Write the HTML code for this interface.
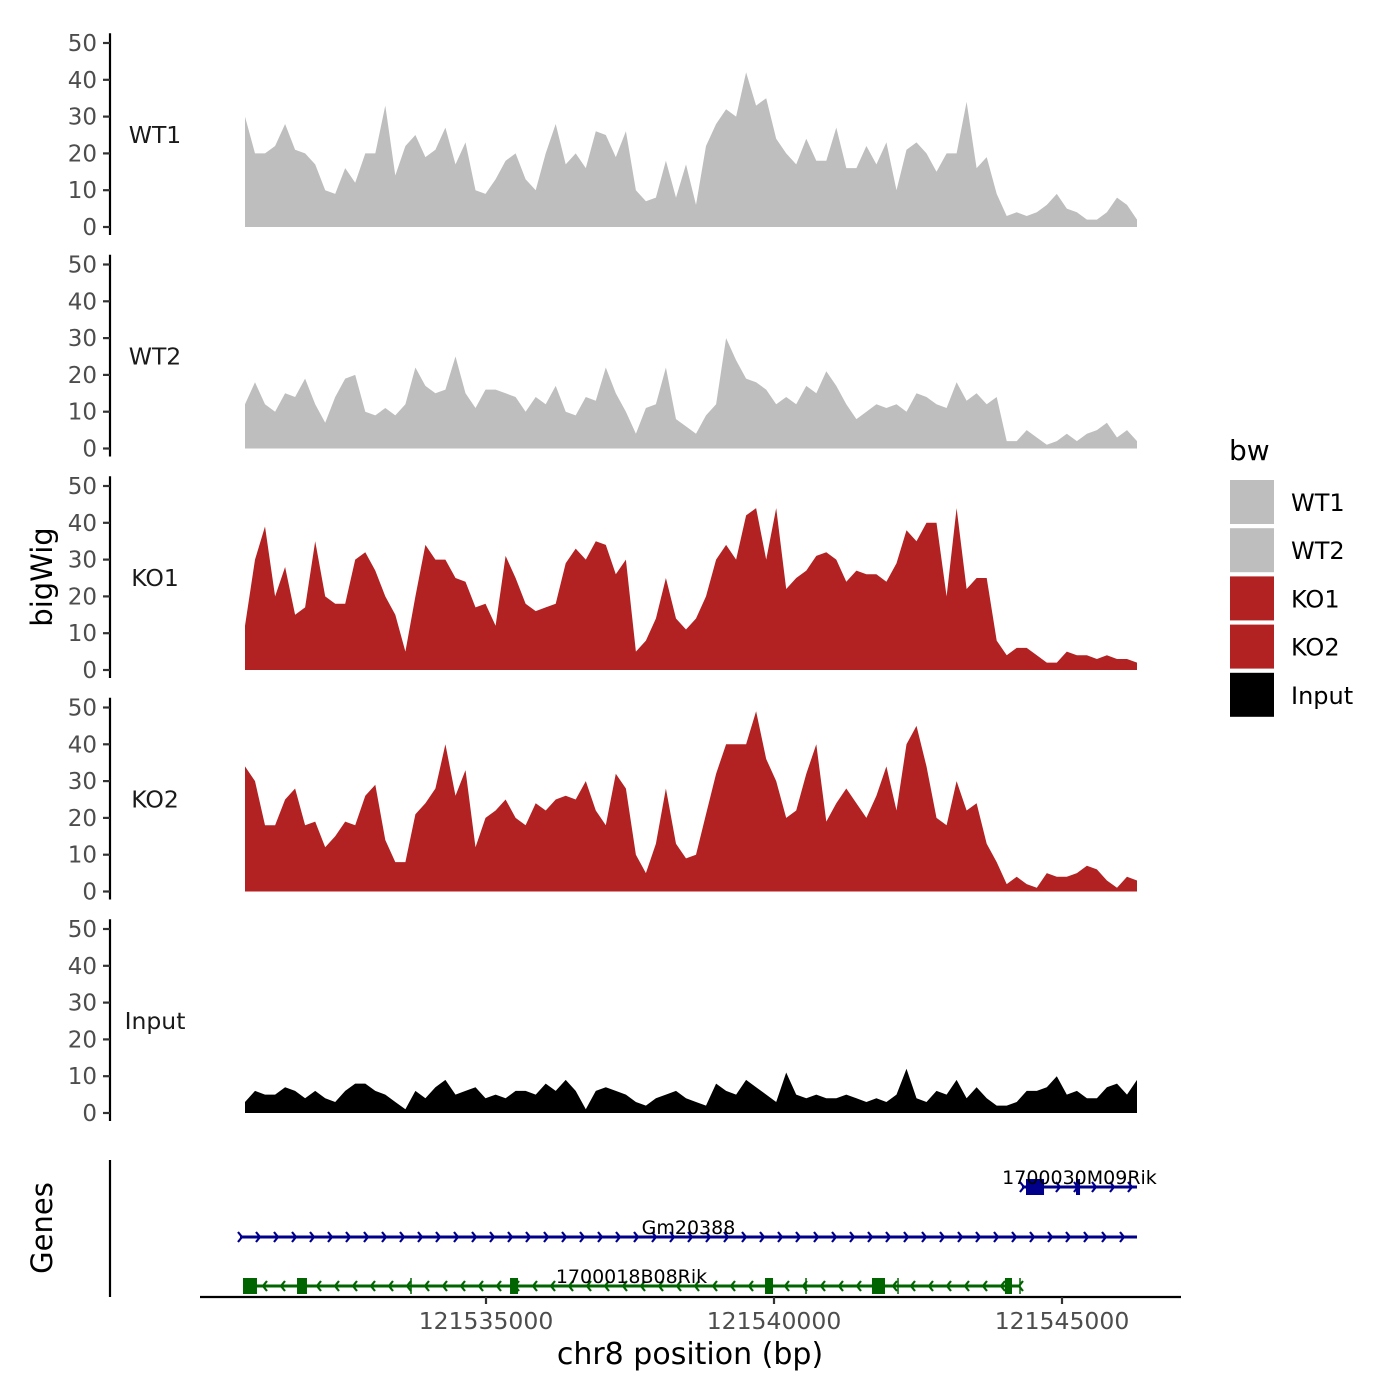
<!DOCTYPE html>
<html><head><meta charset="utf-8"><style>
html,body{margin:0;padding:0;background:#fff;}
svg{display:block;font-family:"DejaVu Sans","Liberation Sans",sans-serif;}
</style></head><body>
<svg id="chart" width="1400" height="1400" viewBox="0 0 1400 1400" xmlns="http://www.w3.org/2000/svg">
<g id="tracks"></g>
<g id="genes"></g>
<g id="xaxis"></g>
<text x="0" y="0" transform="translate(52,577) rotate(-90)" text-anchor="middle" font-size="29" fill="#000">bigWig</text>
<text x="0" y="0" transform="translate(52,1228) rotate(-90)" text-anchor="middle" font-size="29" fill="#000">Genes</text>
<text x="690" y="1364" text-anchor="middle" font-size="30" fill="#000">chr8 position (bp)</text>
<g id="legend"></g>
</svg>
<script>
const binStart = 121530816;
const binSize = 174;
const trackNames = ["WT1","WT2","KO1","KO2","Input"];
const trackColors = ["#bebebe","#bebebe","#b22222","#b22222","#000000"];
const wt1 = [30,20,20,22,28,21,20,17,10,9,16,12,20,20,33,14,22,25,19,21,27,17,23,10,9,13,18,20,13,10,20,28,17,20,16,26,25,19,26,10,7,8,18,8,17,6,22,28,32,30,42,33,35,24,20,17,24,18,18,27,16,16,22,17,23,10,21,23,20,15,20,20,34,16,19,9,3,4,3,4,6,9,5,4,2,2,4,8,6,2];
const wt2 = [12,18,12,10,15,14,19,12,7,14,19,20,10,9,11,9,12,22,17,15,16,25,15,11,16,16,15,14,10,14,12,17,10,9,14,13,22,15,10,4,11,12,22,8,6,4,9,12,30,24,19,18,16,12,14,12,17,15,21,17,12,8,10,12,11,12,10,15,14,12,11,18,13,15,12,14,2,2,5,3,1,2,4,2,4,5,7,3,5,2];
const ko1 = [12,30,39,20,28,15,17,35,20,18,18,30,32,27,20,15,5,20,34,30,30,25,24,17,18,12,31,25,18,16,17,18,29,33,30,35,34,26,30,5,8,14,25,14,11,14,20,30,34,30,42,44,30,44,22,25,27,31,32,30,24,27,26,26,24,29,38,35,40,40,20,44,22,25,25,8,4,6,6,4,2,2,5,4,4,3,4,3,3,2];
const ko2 = [34,30,18,18,25,28,18,19,12,15,19,18,26,29,14,8,8,21,24,28,40,26,33,12,20,22,25,20,18,24,22,25,26,25,30,22,18,32,28,10,5,13,28,13,9,10,21,32,40,40,40,49,36,30,20,22,32,40,19,24,28,24,20,26,34,22,40,45,34,20,18,30,22,24,13,8,2,4,2,1,5,4,4,5,7,6,3,1,4,3];
const input = [3,6,5,5,7,6,4,6,4,3,6,8,8,6,5,3,1,6,4,7,9,5,6,7,4,5,4,6,6,5,8,6,9,6,1,6,7,6,5,3,2,4,5,6,4,3,2,8,6,5,9,7,5,3,11,5,4,5,4,4,5,4,3,4,3,5,12,4,3,6,5,9,4,7,4,2,2,3,6,6,7,10,5,6,4,4,7,8,5,9];
const trackValues = [wt1,wt2,ko1,ko2,input];
const yTicks = [0,10,20,30,40,50];
const xTicks = [121535000,121540000,121545000];
const geneNames = ["1700030M09Rik","Gm20388","1700018B08Rik"];
const geneStarts = [121544305,121530729,121530781];
const geneEnds = [121546302,121546302,121544271];
const geneStrands = ["+","+","-"];
const geneExons = [
  [[121544375,121544688],[121545243,121545313]],
  [],
  [[121530781,121531024],[121531719,121531892],[121535417,121535556],[121539844,121539983],[121541701,121541927],[121544010,121544132]]
];
const geneIntronMarks = [[],[],[121533698,121540556,121542153,121544271]];

const NS="http://www.w3.org/2000/svg";
function mk(tag, attrs, parent){const e=document.createElementNS(NS,tag);for(const k in attrs)e.setAttribute(k,attrs[k]);parent.appendChild(e);return e;}
function xScale(bp){return 486+(bp-121535000)*0.0576;}
const panelTop0 = 227, panelStep = 221.5, pxPerUnit = 3.68;
function yScale(v,i){return panelTop0+i*panelStep - v*pxPerUnit;}

const tracks=document.getElementById('tracks');
trackValues.forEach((vals,i)=>{
  const g=mk('g',{},tracks);
  
  
  const base=yScale(0,i);
  let d='M'+xScale(binStart).toFixed(1)+','+base;
  vals.forEach((v,j)=>{d+=' L'+xScale(binStart+j*binSize).toFixed(1)+','+yScale(v,i).toFixed(1);});
  d+=' L'+xScale(binStart+(vals.length-1)*binSize).toFixed(1)+','+base+' Z';
  const p=mk('path',{d:d,fill:trackColors[i]},g);
  
  
  const ax=mk('line',{x1:110,x2:110,y1:yScale(52.5,i)-0.5,y2:base+8,stroke:'#000','stroke-width':2.2},g);
  
  
  yTicks.forEach(t=>{
    const y=yScale(t,i);
    const tk=mk('line',{x1:103,x2:110,y1:y,y2:y,stroke:'#333','stroke-width':2.2},g);
    
    
    const tl=mk('text',{x:97,y:y+8,'text-anchor':'end','font-size':23,fill:'#4d4d4d'},g);
    tl.textContent=t;
    
    
  });
  const lab=mk('text',{x:155,y:yScale(25,i)+8,'text-anchor':'middle','font-size':23.5,fill:'#1a1a1a'},g);
  lab.textContent=trackNames[i];
  
  
});

// genes
const genes=document.getElementById('genes');
const gl=mk('line',{x1:110,x2:110,y1:1160,y2:1297,stroke:'#000','stroke-width':2.2},genes);


const geneY=[1187,1237,1286];
const geneCol=["#00008b","#00008b","#006400"];
geneNames.forEach((n,i)=>{
  const g=mk('g',{},genes);
  
  
  const x1=xScale(geneStarts[i]), x2=xScale(geneEnds[i]), y=geneY[i], c=geneCol[i];
  mk('line',{x1:x1,x2:x2,y1:y,y2:y,stroke:c,'stroke-width':3},g);
  for(let x=x1+2;x<=x2+1;x+=18){
    const pts = geneStrands[i]==='+' ? `${x-4},${y-5} ${x},${y} ${x-4},${y+5}` : `${x+4},${y-5} ${x},${y} ${x+4},${y+5}`;
    mk('polyline',{points:pts,fill:'none',stroke:c,'stroke-width':2.2},g);
  }
  geneExons[i].forEach(e=>{
    const r=mk('rect',{x:xScale(e[0]),y:y-8,width:Math.max(4,xScale(e[1])-xScale(e[0])),height:16,fill:c},g);
    
    
  });
  geneIntronMarks[i].forEach(b=>{
    mk('line',{x1:xScale(b),x2:xScale(b),y1:y-8,y2:y+8,stroke:c,'stroke-width':1.5},g);
  });
  const lx = (x1+x2)/2;
  const t=mk('text',{x:lx,y:y-3,'text-anchor':'middle','font-size':19,fill:'#000'},g);
  t.textContent=n;
  
  
});

// x axis
const xa=document.getElementById('xaxis');
mk('line',{x1:200,x2:1181,y1:1297,y2:1297,stroke:'#000','stroke-width':2.2},xa);
xTicks.forEach(t=>{
  const x=xScale(t);
  const tk=mk('line',{x1:x,x2:x,y1:1297,y2:1304,stroke:'#333','stroke-width':2.2},xa);
  
  
  const tl=mk('text',{x:x,y:1329,'text-anchor':'middle','font-size':23.5,fill:'#4d4d4d'},xa);
  tl.textContent=t;
  
  
});

// legend
const lg=document.getElementById('legend');
const lt=mk('text',{x:1229,y:460,'font-size':28,fill:'#000'},lg);
lt.textContent='bw';


trackNames.forEach((n,i)=>{
  const g=mk('g',{},lg);
  
  
  const y=480+i*48.2;
  mk('rect',{x:1230,y:y,width:44,height:44,fill:trackColors[i]},g);
  const t=mk('text',{x:1291,y:y+31,'font-size':24,fill:'#000'},g);
  t.textContent=n;
});
</script>
</body></html>
